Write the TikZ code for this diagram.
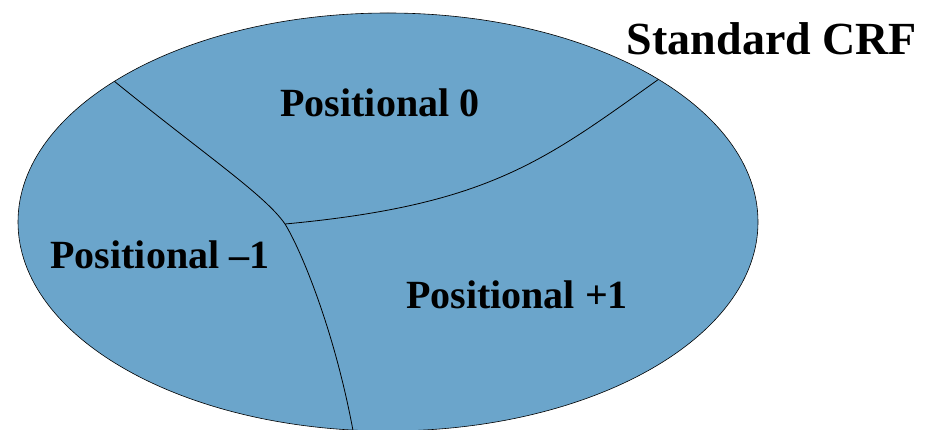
\documentclass[tikz,border=0pt]{standalone}
\usepackage{fontspec}
\setmainfont{Liberation Serif}
\usepackage{tikz}
\usetikzlibrary{positioning}
\definecolor{crfblue}{RGB}{107,165,203}
\tikzstyle{region} = [fill=crfblue, draw=black, line width=0.6pt]
\tikzstyle{border} = [draw=black, line width=0.8pt]
\tikzstyle{regionlabel} = [inner sep=0pt, anchor=base, font=\bfseries\fontsize{40}{48}\selectfont]
\tikzstyle{crftitle} = [inner sep=0pt, anchor=base, font=\bfseries\fontsize{46}{55}\selectfont]

\begin{document}
\begin{tikzpicture}[x=1pt, y=-1pt]
	\useasboundingbox (0,0) rectangle (925,430);
	\draw[region] (388,222) ellipse [x radius=370, y radius=209];
	% borders between the regions
	\coordinate (top left) at (114,81);
	\coordinate (top right) at (659,79);
	\coordinate (junction) at (285,224);
	\coordinate (bottom) at (354,436);
	\begin{scope}
		\clip (388,222) ellipse [x radius=370, y radius=209];
		\draw[border] (top left) .. controls (205,155) and (265,195) .. (junction)
			.. controls (300,248) and (335,330) .. (bottom);
		\draw[border] (junction) .. controls (490,205) and (545,160) .. (top right);
	\end{scope}
	\node[regionlabel] (pos zero) at (380,117) {Positional 0};
	\node[regionlabel] (pos minus) at (160,268) {Positional \textendash1};
	\node[regionlabel] (pos plus) at (517,308) {Positional +1};
	\node[crftitle] (title) at (772,55) {Standard CRF};
\end{tikzpicture}
\end{document}
